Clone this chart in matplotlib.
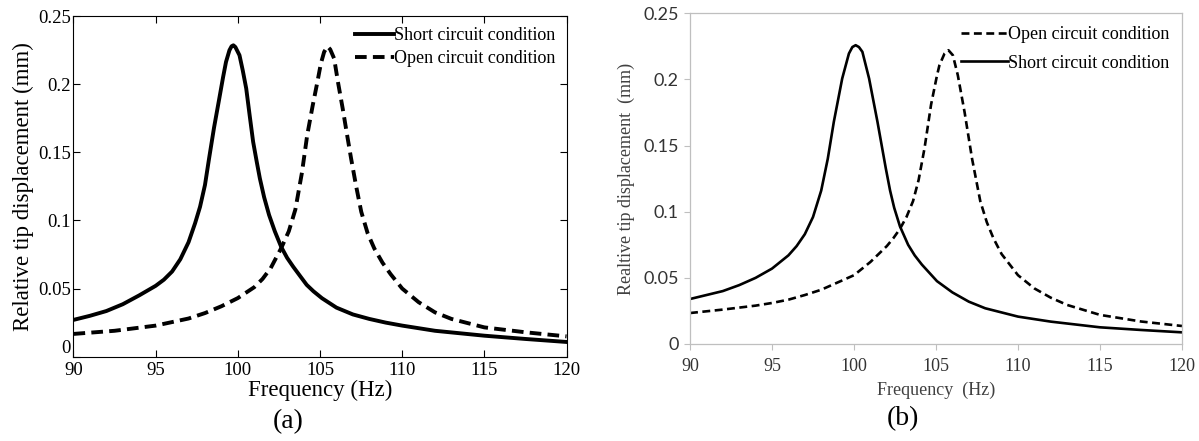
import matplotlib
matplotlib.use("Agg")
import matplotlib.pyplot as plt

# panel (a) - MATLAB style
freq_a_short = [90, 91, 92, 93, 94, 95, 95.5, 96, 96.5, 97, 97.4, 97.7, 98, 98.25, 98.55,
                98.87, 99.1, 99.28, 99.49, 99.62, 99.73, 99.85, 100.1, 100.3, 100.51,
                100.72, 100.93, 101.15, 101.34, 101.6, 101.9, 102.25, 102.64, 103, 103.37,
                103.8, 104.19, 104.6, 105.12, 106, 107, 108, 109, 110, 112, 115, 117.5, 120]
short_a = [0.027, 0.030, 0.0335, 0.0385, 0.045, 0.052, 0.0565, 0.0625, 0.0715, 0.084, 0.098,
           0.110, 0.126, 0.1455, 0.168, 0.1894, 0.205, 0.2163, 0.2249, 0.2278, 0.2285,
           0.2272, 0.2212, 0.210, 0.1968, 0.177, 0.1577, 0.143, 0.1308, 0.117, 0.104,
           0.092, 0.0805, 0.0725, 0.066, 0.059, 0.0527, 0.048, 0.0429, 0.036, 0.031,
           0.0277, 0.025, 0.0228, 0.019, 0.0154, 0.013, 0.0108]

freq_a_open = [90, 92.5, 95, 97, 98, 99, 100, 101, 101.5, 102, 102.64, 103.1, 103.5, 103.9,
               104.22, 104.55, 104.84, 105.05, 105.25, 105.45, 105.62, 105.86, 106.1,
               106.38, 106.63, 106.89, 107.2, 107.51, 107.9, 108.3, 108.8, 109.3, 110, 111,
               112, 113, 115, 117.5, 120]
open_a = [0.0167, 0.019, 0.0228, 0.028, 0.032, 0.037, 0.043, 0.051, 0.057, 0.065, 0.0797,
          0.092, 0.108, 0.135, 0.1625, 0.184, 0.2016, 0.215, 0.2236, 0.2277, 0.2255,
          0.2188, 0.201, 0.1821, 0.164, 0.1455, 0.125, 0.1063, 0.0905, 0.0795, 0.069, 0.0605,
          0.050, 0.040, 0.0325, 0.0277, 0.0215, 0.0179, 0.0149]

# panel (b) - Excel style
freq_b_short = [90, 91, 92, 93, 94, 95, 96, 96.5, 97, 97.5, 98, 98.4, 98.77, 99.28,
                99.69, 99.9, 100.1, 100.3, 100.51, 100.92, 101.43, 101.94, 102.2, 102.45,
                102.8, 103.3, 103.7, 104.14, 105.06, 106, 107, 108, 110, 112, 115, 117.5,
                120]
short_b = [0.034, 0.037, 0.040, 0.0445, 0.050, 0.057, 0.067, 0.074, 0.083, 0.096, 0.116,
           0.140, 0.168, 0.2007, 0.2196, 0.2245, 0.2259, 0.2245, 0.2209, 0.2007, 0.168,
           0.1327, 0.116, 0.103, 0.089, 0.075, 0.067, 0.060, 0.0475, 0.039, 0.032, 0.027,
           0.0207, 0.0169, 0.0126, 0.0106, 0.0088]

freq_b_open = [90, 92, 94, 95, 96, 97, 98, 99, 100, 101, 101.5, 102, 102.4, 102.8, 103.2,
               103.6, 103.94, 104.3, 104.7, 105.06, 105.21, 105.52, 105.76, 106.03, 106.33,
               106.74, 107.2, 107.7, 108.1, 108.5, 109, 110, 111, 112, 113, 115, 117.5, 120]
open_b = [0.0234, 0.026, 0.029, 0.031, 0.0335, 0.037, 0.041, 0.0465, 0.052, 0.062, 0.068,
          0.074, 0.080, 0.087, 0.096, 0.108, 0.124, 0.148, 0.181, 0.203, 0.2108, 0.2196,
          0.2221, 0.2183, 0.2032, 0.1755, 0.140, 0.108, 0.092, 0.080, 0.068, 0.052, 0.042,
          0.035, 0.0295, 0.022, 0.017, 0.0136]

xticks = [90, 95, 100, 105, 110, 115, 120]
yticks = [0, 0.05, 0.1, 0.15, 0.2, 0.25]
ylabels = ['0', '0.05', '0.1', '0.15', '0.2', '0.25']

serif = 'Liberation Serif'

fig = plt.figure(figsize=(11.99, 4.41), dpi=100)

# ---- (a) ----
ax1 = fig.add_axes([0.0613, 0.1912, 0.4112, 0.7725])
ax1.plot(freq_a_short, short_a, color='black', lw=2.8, label='Short circuit condition')
ax1.plot(freq_a_open, open_a, color='black', lw=2.8, ls=(0, (3, 1.6)),
         label='Open circuit condition')
ax1.set_xlim(90, 120)
ax1.set_ylim(0, 0.25)
ax1.set_xticks(xticks)
ax1.set_yticks(yticks)
ax1.set_yticklabels(ylabels)
ax1.tick_params(direction='in', top=True, right=True, length=5, width=0.8, labelsize=13.5)
ax1.tick_params(axis='x', pad=3.5)
ax1.tick_params(axis='y', pad=2)
for lab in ax1.get_xticklabels() + ax1.get_yticklabels():
    lab.set_fontfamily(serif)
# the "0" sits just above the corner, as in MATLAB
ax1.get_yticklabels()[0].set_verticalalignment('bottom')
for s in ax1.spines.values():
    s.set_linewidth(0.8)
ax1.set_xlabel('Frequency (Hz)', fontfamily=serif, fontsize=16.5, labelpad=1)
ax1.set_ylabel('Relative tip displacement (mm)', fontfamily=serif, fontsize=16.5, labelpad=3)
ax1.legend(loc='upper right', frameon=False, prop={'family': serif, 'size': 13},
           handlelength=2.2, handletextpad=0.0, borderaxespad=0.3, labelspacing=0.35,
           borderpad=0.3)

# ---- (b) ----
gray = '#bfbfbf'
txt = '#404040'
ax2 = fig.add_axes([0.5755, 0.22, 0.4103, 0.7498])
ax2.plot(freq_b_open, open_b, color='black', lw=1.9, ls=(0, (3, 1.7)),
         label='Open circuit condition')
ax2.plot(freq_b_short, short_b, color='black', lw=1.9, label='Short circuit condition')
ax2.set_xlim(90, 120)
ax2.set_ylim(0, 0.25)
ax2.set_xticks(xticks)
ax2.set_yticks(yticks)
ax2.set_yticklabels(ylabels)
ax2.tick_params(direction='out', length=4, width=0.8, color=gray, labelcolor='#333333',
                labelsize=13)
ax2.tick_params(axis='x', pad=6)
ax2.tick_params(axis='y', pad=4)
for lab in ax2.get_xticklabels():
    lab.set_fontfamily(serif)
for lab in ax2.get_yticklabels():
    lab.set_fontfamily('Lato')
for s in ax2.spines.values():
    s.set_color(gray)
    s.set_linewidth(0.9)
ax2.set_xlabel('Frequency  (Hz)', fontfamily=serif, fontsize=13, color=txt, labelpad=5)
ax2.set_ylabel('Realtive tip displacement  (mm)', fontfamily=serif, fontsize=13,
               color=txt, labelpad=6)
ax2.legend(loc='upper right', frameon=False, prop={'family': serif, 'size': 13},
           handlelength=2.6, handletextpad=0.0, borderaxespad=0.4, labelspacing=0.65,
           borderpad=0.3)

fig.text(0.240, 0.045, '(a)', fontfamily=serif, fontsize=20, ha='center', va='center')
fig.text(0.753, 0.051, '(b)', fontfamily=serif, fontsize=20, ha='center', va='center')

fig.savefig('out.png', dpi=100)
